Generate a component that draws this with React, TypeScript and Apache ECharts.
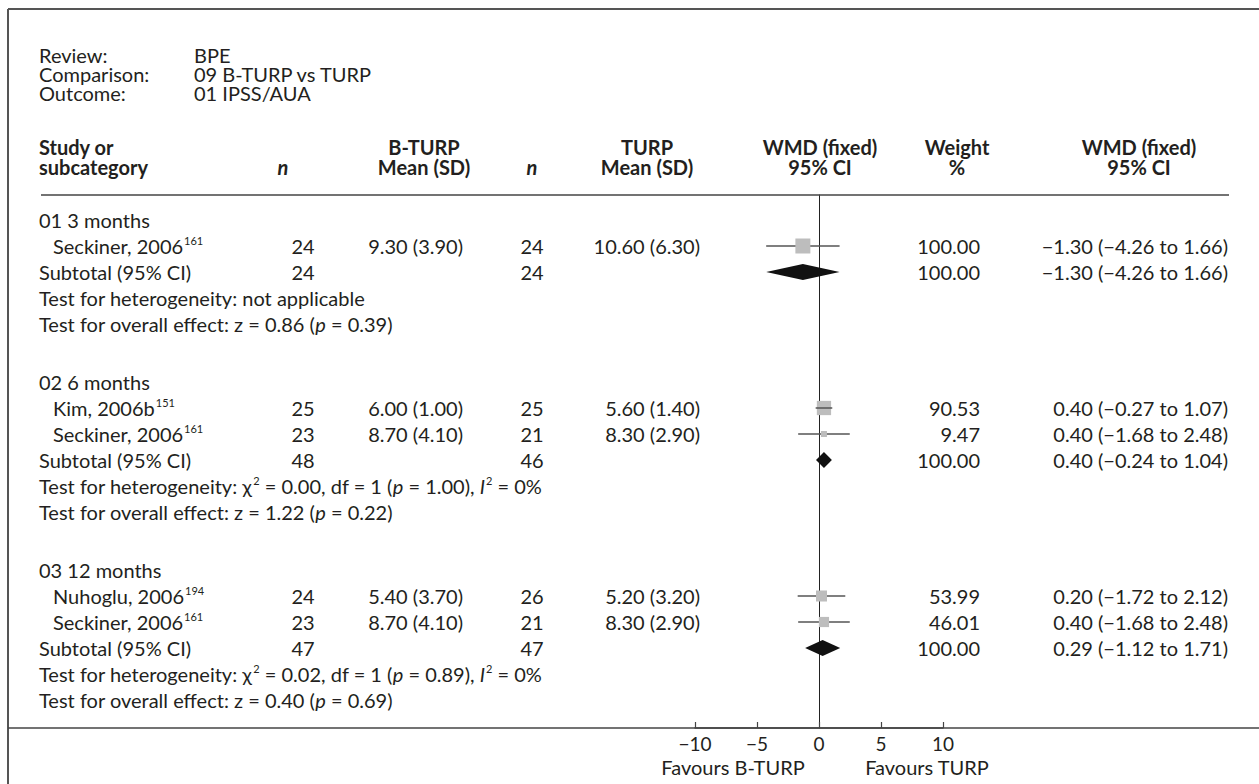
import { useEffect, useRef } from "react";
import * as echarts from "echarts";

// ---------------- data ----------------
const REVIEW_LABELS = ["Review:", "Comparison:", "Outcome:"];
const REVIEW_VALUES = ["BPE", "09 B-TURP vs TURP", "01 IPSS/AUA"];

const GROUPS = ["01 3 months", "02 6 months", "03 12 months"];
const STUDY_GROUP = [0, 1, 1, 2, 2];
const STUDY_NAMES = ["Seckiner, 2006", "Kim, 2006b", "Seckiner, 2006", "Nuhoglu, 2006", "Seckiner, 2006"];
const STUDY_REFS = ["161", "151", "161", "194", "161"];
const N1 = [24, 25, 23, 24, 23];
const MEAN1 = [9.3, 6.0, 8.7, 5.4, 8.7];
const SD1 = [3.9, 1.0, 4.1, 3.7, 4.1];
const N2 = [24, 25, 21, 26, 21];
const MEAN2 = [10.6, 5.6, 8.3, 5.2, 8.3];
const SD2 = [6.3, 1.4, 2.9, 3.2, 2.9];
const WMD = [-1.3, 0.4, 0.4, 0.2, 0.4];
const CI_LO = [-4.26, -0.27, -1.68, -1.72, -1.68];
const CI_HI = [1.66, 1.07, 2.48, 2.12, 2.48];
const WEIGHTS = [100.0, 90.53, 9.47, 53.99, 46.01];

const SUB_N1 = [24, 48, 47];
const SUB_N2 = [24, 46, 47];
const SUB_WMD = [-1.3, 0.4, 0.29];
const SUB_LO = [-4.26, -0.24, -1.12];
const SUB_HI = [1.66, 1.04, 1.71];
const SUB_WEIGHT = [100.0, 100.0, 100.0];

const HET_CHI = ["", "0.00", "0.02"];
const HET_DF = ["", "1", "1"];
const HET_P = ["", "1.00", "0.89"];
const HET_I2 = ["", "0%", "0%"];
const OVERALL_Z = ["0.86", "1.22", "0.40"];
const OVERALL_P = ["0.39", "0.22", "0.69"];

const X_TICKS = [-10, -5, 0, 5, 10];
const FAVOURS = ["Favours B-TURP", "Favours TURP"];

// ---------------- layout / style ----------------
const FONT = "Lato, 'Open Sans', sans-serif";
const FS = 20;
const TEXT = "#231f20";
const LINE = "#444";
const SQ_COLOR = "#bdbdbd";
const CI_COLOR = "#555";

const GRID_LEFT = 695;
const GRID_W = 248;
const GRID_TOP = 195;
const AXIS_Y = 728;
const ROW_PX = 26;
const FIRST_ROW_PX = 220;
const GROUP_GAP_PX = 32;
const Y_MAX = (AXIS_Y - GRID_TOP) / ROW_PX;
const FIRST_V = (FIRST_ROW_PX - GRID_TOP) / ROW_PX;
const GAP_V = GROUP_GAP_PX / ROW_PX;
const SQ_MAX = 15;
const SQ_MIN = 6;
const DIAMOND_H = 8;

const X = {
  label: 39,
  value: 194,
  study: 53,
  n1Hdr: 283,
  n1: 303,
  mean1Hdr: 424,
  mean1Right: 463,
  n2: 532,
  mean2Hdr: 647,
  mean2Right: 700,
  wmdHdr: 820,
  weightHdr: 957,
  weightRight: 980,
  ciHdr: 1139,
  ciRight: 1228,
};
const HDR_Y = [147, 167];
const REVIEW_Y = [55, 74, 93];

const RICH: any = {
  t: { fontFamily: FONT, fontSize: FS, lineHeight: 22, fill: TEXT },
  i: { fontFamily: FONT, fontSize: FS, lineHeight: 22, fill: TEXT, fontStyle: "italic" },
  s: { fontFamily: FONT, fontSize: 11, lineHeight: 12, fill: TEXT, verticalAlign: "top", padding: [0, 0, 0, 1] },
};

const minus = (s: string) => s.replace(/^-/, "\u2212");
const f2 = (v: number) => minus(v.toFixed(2));
const meanSd = (m: number, s: number) => `${m.toFixed(2)} (${s.toFixed(2)})`;
const ciText = (w: number, lo: number, hi: number) => `${f2(w)} (${f2(lo)} to ${f2(hi)})`;

function txt(x: number, y: number, text: string, o: any = {}) {
  return {
    type: "text",
    x,
    y,
    silent: true,
    z: 10,
    style: {
      text,
      fill: TEXT,
      fontFamily: FONT,
      fontSize: o.fontSize ?? FS,
      fontWeight: o.bold ? "bold" : "normal",
      fontStyle: o.italic ? "italic" : "normal",
      lineHeight: o.lineHeight ?? 22,
      align: o.align ?? "left",
      verticalAlign: "middle",
      rich: o.rich,
    },
  };
}

function hline(x1: number, x2: number, y: number, w = 1.5, c = LINE) {
  return { type: "line", silent: true, z: 9, shape: { x1, y1: y, x2, y2: y }, style: { stroke: c, lineWidth: w } };
}

function buildRows() {
  const studyV: number[] = [];
  const groupV: number[] = [];
  const subV: number[] = [];
  const hetV: number[] = [];
  const ovrV: number[] = [];
  let r = 0;
  GROUPS.forEach((_, g) => {
    const base = FIRST_V + g * GAP_V;
    groupV.push(base + r++);
    STUDY_GROUP.forEach((sg, i) => {
      if (sg === g) studyV[i] = base + r++;
    });
    subV.push(base + r++);
    hetV.push(base + r++);
    ovrV.push(base + r++);
  });
  return { studyV, groupV, subV, hetV, ovrV };
}

export default function App() {
  const ref = useRef<HTMLDivElement>(null);

  useEffect(() => {
    if (!ref.current) return;
    const chart = echarts.init(ref.current, undefined, { renderer: "svg" });
    const { studyV, groupV, subV, hetV, ovrV } = buildRows();
    const py = (v: number) => GRID_TOP + v * ROW_PX;

    const els: any[] = [];
    // frame
    els.push({ type: "line", silent: true, z: 9, shape: { x1: 8, y1: 9, x2: 1259, y2: 9 }, style: { stroke: "#555", lineWidth: 2 } });
    els.push({ type: "line", silent: true, z: 9, shape: { x1: 8, y1: 9, x2: 8, y2: 784 }, style: { stroke: "#555", lineWidth: 2 } });
    els.push(hline(41, 1229, GRID_TOP, 1.5));
    els.push(hline(8, 1259, AXIS_Y, 1.5));

    // review block
    const hd = { lineHeight: 17 };
    REVIEW_LABELS.forEach((l, i) => {
      els.push(txt(X.label, REVIEW_Y[i], l, hd));
      els.push(txt(X.value, REVIEW_Y[i], REVIEW_VALUES[i], hd));
    });

    // column headers
    const b = { bold: true, lineHeight: 18 };
    const bc = { bold: true, lineHeight: 18, align: "center" };
    els.push(txt(X.label, HDR_Y[0], "Study or", b));
    els.push(txt(X.label, HDR_Y[1], "subcategory", b));
    els.push(txt(X.n1Hdr, HDR_Y[1], "n", { ...bc, italic: true }));
    els.push(txt(X.mean1Hdr, HDR_Y[0], "B-TURP", bc));
    els.push(txt(X.mean1Hdr, HDR_Y[1], "Mean (SD)", bc));
    els.push(txt(X.n2, HDR_Y[1], "n", { ...bc, italic: true }));
    els.push(txt(X.mean2Hdr, HDR_Y[0], "TURP", bc));
    els.push(txt(X.mean2Hdr, HDR_Y[1], "Mean (SD)", bc));
    els.push(txt(X.wmdHdr, HDR_Y[0], "WMD (fixed)", bc));
    els.push(txt(X.wmdHdr, HDR_Y[1], "95% CI", bc));
    els.push(txt(X.weightHdr, HDR_Y[0], "Weight", bc));
    els.push(txt(X.weightHdr, HDR_Y[1], "%", bc));
    els.push(txt(X.ciHdr, HDR_Y[0], "WMD (fixed)", bc));
    els.push(txt(X.ciHdr, HDR_Y[1], "95% CI", bc));

    // groups
    GROUPS.forEach((gname, g) => {
      els.push(txt(X.label, py(groupV[g]), gname));
      const ys = py(subV[g]);
      els.push(txt(X.label, ys, "Subtotal (95% CI)"));
      els.push(txt(X.n1, ys, String(SUB_N1[g]), { align: "center" }));
      els.push(txt(X.n2, ys, String(SUB_N2[g]), { align: "center" }));
      els.push(txt(X.weightRight, ys, SUB_WEIGHT[g].toFixed(2), { align: "right" }));
      els.push(txt(X.ciRight, ys, ciText(SUB_WMD[g], SUB_LO[g], SUB_HI[g]), { align: "right" }));
      const het = HET_CHI[g]
        ? `{t|Test for heterogeneity: \u03c7}{s|2}{t| = ${HET_CHI[g]}, df = ${HET_DF[g]} (}{i|p}{t| = ${HET_P[g]}), }{i|I}{s|2}{t| = ${HET_I2[g]}}`
        : "{t|Test for heterogeneity: not applicable}";
      els.push(txt(X.label, py(hetV[g]), het, { rich: RICH }));
      els.push(
        txt(X.label, py(ovrV[g]), `{t|Test for overall effect: z = ${OVERALL_Z[g]} (}{i|p}{t| = ${OVERALL_P[g]})}`, { rich: RICH })
      );
    });

    // studies
    STUDY_NAMES.forEach((name, i) => {
      const y = py(studyV[i]);
      els.push(txt(X.study, y, `{t|${name}}{s|${STUDY_REFS[i]}}`, { rich: RICH }));
      els.push(txt(X.n1, y, String(N1[i]), { align: "center" }));
      els.push(txt(X.mean1Right, y, meanSd(MEAN1[i], SD1[i]), { align: "right" }));
      els.push(txt(X.n2, y, String(N2[i]), { align: "center" }));
      els.push(txt(X.mean2Right, y, meanSd(MEAN2[i], SD2[i]), { align: "right" }));
      els.push(txt(X.weightRight, y, WEIGHTS[i].toFixed(2), { align: "right" }));
      els.push(txt(X.ciRight, y, ciText(WMD[i], CI_LO[i], CI_HI[i]), { align: "right" }));
    });

    // favours labels
    els.push(txt(733, 767, FAVOURS[0], { align: "center", lineHeight: 20 }));
    els.push(txt(927, 767, FAVOURS[1], { align: "center", lineHeight: 20 }));

    const option: any = {
      animation: false,
      grid: { left: GRID_LEFT, top: GRID_TOP, width: GRID_W, height: AXIS_Y - GRID_TOP },
      xAxis: {
        type: "value",
        min: X_TICKS[0],
        max: X_TICKS[X_TICKS.length - 1],
        interval: X_TICKS[1] - X_TICKS[0],
        axisLine: { onZero: false, lineStyle: { color: LINE, width: 1.5 } },
        axisTick: { inside: true, length: 6, lineStyle: { color: LINE, width: 1.2 } },
        axisLabel: {
          formatter: (v: number) => (v < 0 ? "\u2212" + Math.abs(v) : String(v)),
          fontFamily: FONT,
          fontSize: 19,
          color: TEXT,
          margin: 6,
        },
        splitLine: { show: false },
      },
      yAxis: {
        type: "value",
        inverse: true,
        min: 0,
        max: Y_MAX,
        axisLine: { show: true, onZero: true, lineStyle: { color: "#222", width: 1 } },
        axisTick: { show: false },
        axisLabel: { show: false },
        splitLine: { show: false },
      },
      series: [
        {
          type: "custom",
          name: "studies",
          coordinateSystem: "cartesian2d",
          z: 5,
          encode: { x: [0, 1, 2], y: 3 },
          data: WMD.map((w, i) => [CI_LO[i], w, CI_HI[i], studyV[i], WEIGHTS[i]]),
          renderItem: (_p: any, api: any) => {
            const lo = api.coord([api.value(0), api.value(3)]);
            const mid = api.coord([api.value(1), api.value(3)]);
            const hi = api.coord([api.value(2), api.value(3)]);
            const s = Math.max(SQ_MIN, SQ_MAX * Math.sqrt(api.value(4) / 100));
            const line = {
              type: "line",
              shape: { x1: lo[0], y1: lo[1], x2: hi[0], y2: hi[1] },
              style: { stroke: CI_COLOR, lineWidth: 1.5 },
            };
            const rect = {
              type: "rect",
              shape: { x: mid[0] - s / 2, y: mid[1] - s / 2, width: s, height: s },
              style: { fill: SQ_COLOR },
            };
            const lineOnTop = hi[0] - lo[0] < s + 4;
            return { type: "group", children: lineOnTop ? [rect, line] : [line, rect] };
          },
        },
        {
          type: "custom",
          name: "subtotals",
          coordinateSystem: "cartesian2d",
          z: 5,
          encode: { x: [0, 1, 2], y: 3 },
          data: SUB_WMD.map((w, g) => [SUB_LO[g], w, SUB_HI[g], subV[g]]),
          renderItem: (_p: any, api: any) => {
            const lo = api.coord([api.value(0), api.value(3)]);
            const mid = api.coord([api.value(1), api.value(3)]);
            const hi = api.coord([api.value(2), api.value(3)]);
            return {
              type: "polygon",
              shape: {
                points: [
                  [lo[0], mid[1]],
                  [mid[0], mid[1] - DIAMOND_H],
                  [hi[0], mid[1]],
                  [mid[0], mid[1] + DIAMOND_H],
                ],
              },
              style: { fill: "#111" },
            };
          },
        },
      ],
      graphic: { elements: els },
    };

    chart.setOption(option);
    return () => chart.dispose();
  }, []);

  return (
    <div
      ref={ref}
      style={{ position: "fixed", left: 0, top: 0, width: 1259, height: 784, background: "#fff" }}
    />
  );
}
